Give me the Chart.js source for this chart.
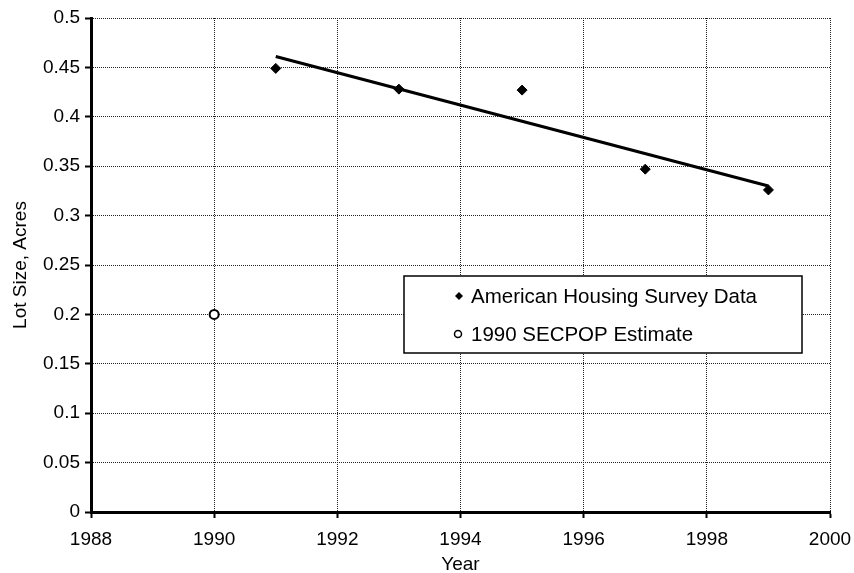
<!DOCTYPE html>
<html>
<head>
<meta charset="utf-8">
<script src="https://cdn.jsdelivr.net/npm/chart.js@4.4.1/dist/chart.umd.min.js"></script>
<style>
  html, body { margin: 0; padding: 0; background: #fff; }
  #wrap { width: 854px; height: 573px; }
</style>
</head>
<body>
<div id="wrap"><canvas id="grafica" width="854" height="573"></canvas></div>
<script>
// survey lot sizes (acres) by year
var ahsYears = [1991, 1993, 1995, 1997, 1999];
var ahsLotSize = [0.449, 0.428, 0.427, 0.347, 0.326];

// single SECPOP estimate
var secpopYears = [1990];
var secpopLotSize = [0.2];

// linear trend through the survey points
var trendYears = [1991, 1999];
var trendLotSize = [0.461, 0.330];

var legendLabels = ["American Housing Survey Data", "1990 SECPOP Estimate"];

function toPoints(xs, ys) {
    var pts = [];
    for (var i = 0; i < xs.length; i++) {
        pts.push({x: xs[i], y: ys[i]});
    }
    return pts;
}

Chart.defaults.font.family = "'Liberation Sans', Arial, sans-serif";
Chart.defaults.font.size = 19;
Chart.defaults.color = "#000";

// legend box drawn inside the plot area
var boxLegend = {
    id: 'boxLegend',
    afterDatasetsDraw: function (chart) {
        var ctx = chart.ctx;
        ctx.save();
        ctx.fillStyle = "#fff";
        ctx.fillRect(404, 276, 398, 77);
        ctx.strokeStyle = "#000";
        ctx.lineWidth = 1.5;
        ctx.strokeRect(404, 276, 398, 77);

        // diamond marker
        ctx.fillStyle = "#000";
        ctx.beginPath();
        ctx.moveTo(459, 292);
        ctx.lineTo(463, 296);
        ctx.lineTo(459, 300);
        ctx.lineTo(455, 296);
        ctx.closePath();
        ctx.fill();

        // open circle marker
        ctx.beginPath();
        ctx.arc(458, 334, 3.5, 0, Math.PI * 2);
        ctx.fillStyle = "#fff";
        ctx.fill();
        ctx.lineWidth = 1.5;
        ctx.strokeStyle = "#000";
        ctx.stroke();

        ctx.fillStyle = "#000";
        ctx.font = "20.5px 'Liberation Sans', Arial, sans-serif";
        ctx.textBaseline = "middle";
        ctx.textAlign = "left";
        ctx.fillText(legendLabels[0], 471, 297);
        ctx.fillText(legendLabels[1], 471, 335);
        ctx.restore();
    }
};

var ctx = document.getElementById("grafica").getContext("2d");
var myChart = new Chart(ctx, {
    type: 'scatter',
    data: {
        datasets: [
            {
                label: legendLabels[0],
                data: toPoints(ahsYears, ahsLotSize),
                pointStyle: 'rectRot',
                pointRadius: 5,
                backgroundColor: "#000",
                borderColor: "#000",
                borderWidth: 1
            },
            {
                label: legendLabels[1],
                data: toPoints(secpopYears, secpopLotSize),
                pointStyle: 'circle',
                pointRadius: 4.5,
                backgroundColor: "#fff",
                borderColor: "#000",
                borderWidth: 2
            },
            {
                label: "trend",
                data: toPoints(trendYears, trendLotSize),
                showLine: true,
                pointRadius: 0,
                borderColor: "#000",
                borderWidth: 3,
                fill: false
            }
        ]
    },
    options: {
        responsive: false,
        animation: false,
        layout: {
            padding: {top: 18, right: 24, left: 0, bottom: 0}
        },
        plugins: {
            legend: {display: false},
            tooltip: {enabled: false}
        },
        scales: {
            x: {
                type: 'linear',
                min: 1988,
                max: 2000,
                afterFit: function (scale) {
                    scale.height = 61;
                    scale.paddingLeft = 0;
                    scale.paddingRight = 0;
                },
                ticks: {
                    stepSize: 2,
                    padding: 10,
                    maxRotation: 0,
                    callback: function (v) { return String(v); }
                },
                grid: {
                    color: "#222",
                    lineWidth: 1,
                    drawTicks: true,
                    tickLength: 6,
                    tickWidth: 2,
                    tickColor: "#000",
                    tickBorderDash: []
                },
                border: {display: true, color: "#000", width: 3, dash: [1, 1]},
                title: {
                    display: true,
                    text: "Year",
                    font: {size: 19, lineHeight: 1},
                    padding: {top: 0, bottom: -1}
                }
            },
            y: {
                min: 0,
                max: 0.5,
                afterFit: function (scale) {
                    scale.width = 91;
                    scale.paddingTop = 0;
                    scale.paddingBottom = 0;
                },
                ticks: {
                    stepSize: 0.05,
                    padding: 5,
                    callback: function (v) { return String(+v.toFixed(2)); }
                },
                grid: {
                    color: "#222",
                    lineWidth: 1,
                    drawTicks: true,
                    tickLength: 6,
                    tickWidth: 2,
                    tickColor: "#000",
                    tickBorderDash: []
                },
                border: {display: true, color: "#000", width: 3, dash: [1, 1]},
                title: {
                    display: true,
                    text: "Lot Size, Acres",
                    font: {size: 19, lineHeight: 1},
                    padding: {top: 11, bottom: 0}
                }
            }
        }
    },
    plugins: [boxLegend]
});
</script>
</body>
</html>
